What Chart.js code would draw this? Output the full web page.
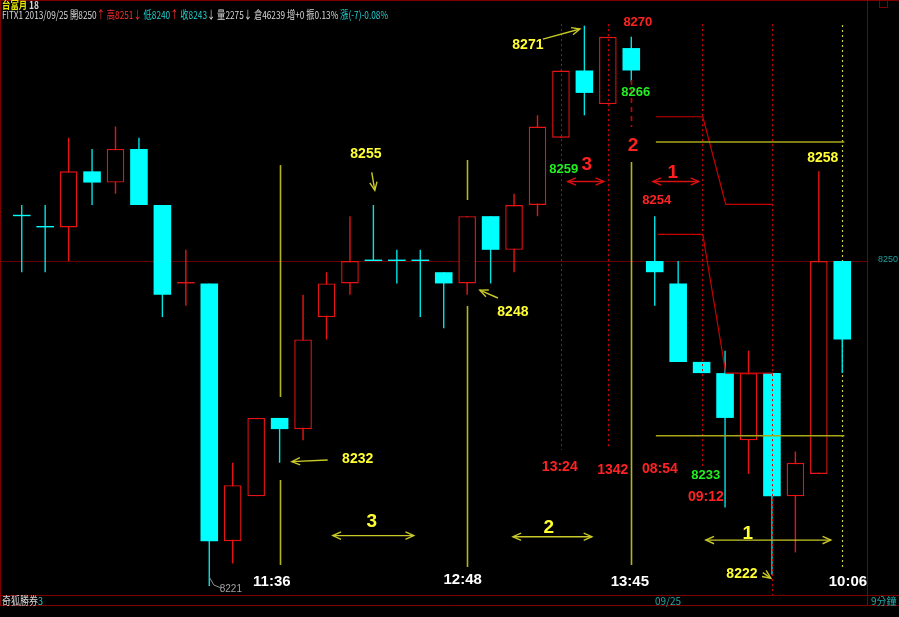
<!DOCTYPE html>
<html><head><meta charset="utf-8">
<script src="https://cdn.jsdelivr.net/npm/chart.js@4.4.0/dist/chart.umd.min.js"></script>
<style>html,body{margin:0;padding:0;background:#000;overflow:hidden}canvas{display:block}</style>
</head><body><canvas id="c" width="899" height="617"></canvas>
<script>
// ---- data ----
const times = ['09:57','10:06','10:15','10:24','10:33','10:42','10:51','11:00','11:09','11:18','11:27','11:36',
  '11:45','11:54','12:03','12:12','12:21','12:30','12:39','12:48','12:57','13:06','13:15','13:24','13:33','13:42',
  '13:45','08:54','09:03','09:12','09:21','09:30','09:39','09:48','09:57','10:06'];
const opens  = [8254,8253,8253,8258,8257,8260,8255,8248,8248,8225,8229,8236,8235,8245,8248,8250,8250,8250,8249,8248,8254,8251,8255,8261,8267,8264,8269,8250,8248,8241,8240,8234,8240,8229,8231,8250];
const highs  = [8255,8255,8261,8260,8262,8261,8255,8251,8248,8232,8236,8236,8247,8249,8254,8255,8251,8251,8249,8254,8254,8256,8263,8267,8271,8270,8270,8254,8250,8241,8242,8242,8240,8233,8258,8250];
const lows   = [8249,8249,8250,8255,8256,8255,8245,8246,8221,8223,8229,8232,8234,8243,8247,8250,8248,8245,8244,8247,8248,8249,8254,8261,8263,8264,8266,8246,8241,8240,8228,8231,8222,8224,8231,8240];
const closes = [8254,8253,8258,8257,8260,8255,8247,8248,8225,8230,8236,8235,8243,8248,8250,8250,8250,8250,8248,8254,8251,8255,8262,8267,8265,8270,8267,8249,8241,8240,8236,8240,8229,8232,8250,8243];
const refPrice = 8250;

// header / footer texts
const headerTitle = [['台富月','title'],[' 18','plain']];
const headerQuote = [['FITX1 2013/09/25 開8250','plain'],['↑','up'],[' 高8251','up'],['↓','up'],[' 低8240','down'],['↑','up'],
  [' 收8243','down'],['↓','plain'],[' 量2275','plain'],['↓','plain'],[' 倉46239 增+0 振0.13% ','plain'],['漲(-7)-0.08%','down']];
const footerLeft = [['奇狐勝券','plain'],['3','down']];
const footerDate = '09/25';
const footerPeriod = '9分鐘';

// annotations in (candle index, price)
const noteTexts = [
  ['8271',21.59,8269.27,'yellowNum'],['8270',26.28,8271.32,'redNum'],['8266',26.19,8265.08,'greenNum'],
  ['8259',23.12,8258.21,'greenNum'],['3',24.10,8258.56,'bigRed'],['2',26.07,8260.29,'bigRed'],
  ['1',27.77,8257.85,'bigRed'],['8254',27.09,8255.44,'redNum'],['8255',14.68,8259.55,'yellowNum'],
  ['8248',20.95,8245.45,'yellowNum'],['8232',14.33,8232.34,'yellowNum'],['3',14.93,8226.74,'bigYellow'],
  ['2',22.48,8226.21,'bigYellow'],['1',30.97,8225.65,'bigYellow'],['8222',30.72,8222.08,'yellowNum'],
  ['13:24',22.95,8231.62,'redTime'],['1342',25.21,8231.36,'redTime'],['08:54',27.22,8231.45,'redTime'],
  ['8233',29.18,8230.91,'greenNum'],['09:12',29.18,8228.97,'redTime'],['8258',34.17,8259.21,'yellowNum'],
  ['11:36',10.67,8221.37,'whiteTime'],['12:48',18.81,8221.54,'whiteTime'],['13:45',25.94,8221.39,'whiteTime'],
  ['10:06',35.24,8221.34,'whiteTime'],['8221',8.92,8220.74,'greyNum']
];
const vSegmentsBack = [
  [11,8258.56,8237.87,'yellowSolid'],[11,8230.46,8222.88,'yellowSolid'],
  [19,8259.01,8255.44,'yellowSolid'],[19,8245.99,8222.70,'yellowSolid'],
  [26,8258.83,8222.88,'yellowSolid'],[35,8271.05,8222.44,'yellowDot']
];
const vSegmentsFront = [
  [23,8271.14,8233.14,'redDot'],[25,8271.14,8233.32,'redDot'],[29,8271.14,8231.62,'redDot'],
  [32,8271.14,8220.2,'redDot'],[26,8266.15,8261.95,'redDash']
];
const polyLines = [
  [[[27.05,8262.87],[29.05,8262.87],[30.03,8255.06],[32.04,8255.06]],'redLine'],
  [[[27.13,8252.38],[29.05,8252.38],[30.03,8240.0],[32.04,8240.0]],'redLine'],
  [[[27.05,8260.61],[35.09,8260.61]],'yellowLine'],
  [[[27.05,8234.42],[35.09,8234.42]],'yellowLine'],
  [[[8,8221.81],[8.19,8221.1],[8.5,8220.83]],'greyLine']
];
const arrows = [
  [22.23,8269.8,23.81,8270.7,'yellowArrow'],[14.93,8257.9,15.06,8256.3,'yellowArrow'],
  [20.31,8246.7,19.54,8247.4,'yellowArrow'],[13.05,8232.25,11.52,8232.1,'yellowArrow'],
  [31.61,8222.2,31.95,8221.7,'yellowArrow']
];
const doubleArrows = [
  [23.29,24.83,8257.1,'redArrow'],[26.92,28.88,8257.1,'redArrow'],
  [13.27,16.72,8225.5,'yellowArrow'],[20.95,24.32,8225.4,'yellowArrow'],[29.18,34.51,8225.1,'yellowArrow']
];

// ---- styles ----
const UP='#e81414', DOWN='#00ffff', DOWNWICK='#00e4e4';
const textStyles = {
  yellowNum:{font:'bold 14px "Liberation Sans"',color:'#ffff33'},
  redNum:{font:'bold 13px "Liberation Sans"',color:'#ff2222'},
  greenNum:{font:'bold 13px "Liberation Sans"',color:'#22ee22'},
  bigRed:{font:'bold 19px "Liberation Sans"',color:'#ff2020'},
  bigYellow:{font:'bold 19px "Liberation Sans"',color:'#ffff33'},
  redTime:{font:'bold 14px "Liberation Sans"',color:'#ff2222'},
  whiteTime:{font:'bold 15px "Liberation Sans"',color:'#ffffff'},
  greyNum:{font:'10px "Liberation Sans"',color:'#a0a0a0'}
};
const lineStyles = {
  yellowSolid:{color:'#b4b420',width:1.6,dash:[]},
  yellowDot:{color:'#d0d040',width:1.2,dash:[2,3]},
  redDot:{color:'#d00000',width:1,dash:[2,3]},
  redDash:{color:'#d00000',width:1.6,dash:[5,4]},
  redLine:{color:'#c80000',width:1.2,dash:[]},
  yellowLine:{color:'#a8a818',width:1.5,dash:[]},
  greyLine:{color:'#909090',width:1,dash:[]},
  yellowArrow:{color:'#c8c828',width:1.4,dash:[]},
  redArrow:{color:'#d81010',width:1.4,dash:[]}
};
const segColors = {title:'#e8e800',plain:'#d8d8d8',up:'#ff3030',down:'#20d0d0'};
const FRAME='#800000';

function dir(i){
  if (closes[i]>opens[i]) return 'up';
  if (closes[i]<opens[i]) return 'down';
  return (i>0 && closes[i]>closes[i-1]) ? 'upDoji' : 'down';
}

const annot = {
  id:'annot',
  beforeDraw(chart){
    const c=chart.ctx; c.save(); c.fillStyle='#000'; c.fillRect(0,0,chart.width,chart.height); c.restore();
  },
  beforeDatasetsDraw(chart){
    const c=chart.ctx, h=helpers(chart);
    c.save();
    c.strokeStyle=FRAME; c.lineWidth=1;
    c.beginPath();
    c.moveTo(0,0.5); c.lineTo(899,0.5);
    c.moveTo(0.5,0); c.lineTo(0.5,606);
    c.moveTo(867.5,0); c.lineTo(867.5,606);
    c.moveTo(0,595.5); c.lineTo(899,595.5);
    c.moveTo(0,605.5); c.lineTo(899,605.5);
    c.stroke();
    c.strokeRect(879.5,0.5,8,7);
    const yr=Math.round(h.y(refPrice))+0.5;
    c.strokeStyle='#6a0000'; c.beginPath(); c.moveTo(1,yr); c.lineTo(867,yr); c.stroke();
    vSegmentsBack.forEach(s=>h.vseg(s));
    c.restore();
  },
  afterDatasetsDraw(chart){
    const c=chart.ctx, h=helpers(chart);
    c.save();
    vSegmentsFront.forEach(s=>h.vseg(s));
    polyLines.forEach(([pts,k])=>{
      h.setLine(k); c.beginPath();
      pts.forEach(([xi,p],j)=>{const X=h.x(xi),Y=h.y(p); j?c.lineTo(X,Y):c.moveTo(X,Y);});
      c.stroke();
    });
    arrows.forEach(([x1,p1,x2,p2,k])=>{
      h.setLine(k); const X1=h.x(x1),Y1=h.y(p1),X2=h.x(x2),Y2=h.y(p2);
      c.beginPath(); c.moveTo(X1,Y1); c.lineTo(X2,Y2); c.stroke(); h.head(X1,Y1,X2,Y2);
    });
    doubleArrows.forEach(([x1,x2,p,k])=>{
      h.setLine(k); const X1=h.x(x1),X2=h.x(x2),Y=h.y(p);
      c.beginPath(); c.moveTo(X1,Y); c.lineTo(X2,Y); c.stroke(); h.head(X1,Y,X2,Y); h.head(X2,Y,X1,Y);
    });
    c.setLineDash([]);
    c.textAlign='center'; c.textBaseline='middle';
    noteTexts.forEach(([t,xi,p,k])=>{
      const s=textStyles[k]; c.font=s.font; c.fillStyle=s.color; c.fillText(t,h.x(xi),h.y(p));
    });
    c.font='9px "Liberation Sans"'; c.fillStyle='#20a0a0'; c.textAlign='left';
    c.fillText(String(refPrice),878,h.y(refPrice)-1);
    c.textBaseline='middle';
    segs(c,headerTitle,2,5,37,'bold 10px "Noto Sans CJK TC"');
    segs(c,headerQuote,2,15,386,'11px "Noto Sans CJK TC"');
    segs(c,footerLeft,2,601,41,'11px "Noto Sans CJK TC"');
    c.font='10px "Noto Sans CJK TC"'; c.fillStyle='#20a8a8'; c.textAlign='center';
    c.fillText(footerDate,668,601);
    c.textAlign='left'; c.fillText(footerPeriod,871,601);
    c.restore();
  }
};
function segs(c,list,x,y,target,font){
  c.font=font; c.textAlign='left';
  const total=list.reduce((s,[t])=>s+c.measureText(t).width,0);
  const k=target/total;
  c.save(); c.translate(x,y); c.scale(k,1);
  let cx=0;
  list.forEach(([t,col])=>{c.fillStyle=segColors[col]; c.fillText(t,cx,0); cx+=c.measureText(t).width;});
  c.restore();
}
function helpers(chart){
  const xs=chart.scales.x, ys=chart.scales.y, c=chart.ctx;
  const x0=xs.getPixelForValue(0), step=xs.getPixelForValue(1)-x0;
  const o={
    x:v=>x0+v*step,
    y:p=>ys.getPixelForValue(p),
    setLine(k){const s=lineStyles[k]; c.strokeStyle=s.color; c.lineWidth=s.width; c.setLineDash(s.dash);},
    vseg([xi,p1,p2,k]){o.setLine(k); const X=Math.round(o.x(xi))+0.5; c.beginPath(); c.moveTo(X,o.y(p1)); c.lineTo(X,o.y(p2)); c.stroke();},
    head(x1,y1,x2,y2){
      const a=Math.atan2(y2-y1,x2-x1), L=9, sp=0.42;
      c.setLineDash([]); c.beginPath();
      c.moveTo(x2-L*Math.cos(a-sp),y2-L*Math.sin(a-sp)); c.lineTo(x2,y2);
      c.lineTo(x2-L*Math.cos(a+sp),y2-L*Math.sin(a+sp)); c.stroke();
    }
  };
  return o;
}

new Chart(document.getElementById('c'),{
  type:'bar',
  data:{labels:times,datasets:[
    {label:'wick',data:lows.map((l,i)=>[l,highs[i]]),barThickness:1.4,grouped:false,order:2,inflateAmount:0,
     backgroundColor:cx=>dir(cx.dataIndex).startsWith('up')?UP:DOWNWICK,borderWidth:0},
    {label:'body',data:opens.map((o,i)=>[o,closes[i]]),barPercentage:0.75,categoryPercentage:1,grouped:false,order:1,
     minBarLength:1.4,borderSkipped:false,inflateAmount:0,
     backgroundColor:cx=>{const d=dir(cx.dataIndex);return d==='up'?'#000':d==='upDoji'?UP:DOWN;},
     borderColor:UP,
     borderWidth:cx=>dir(cx.dataIndex)==='up'?1.4:0}
  ]},
  options:{responsive:false,animation:false,events:[],
    layout:{padding:{left:10,right:45,top:1,bottom:22}},
    scales:{x:{display:false},y:{display:false,min:8220.2,max:8273.2}},
    plugins:{legend:{display:false},tooltip:{enabled:false}}},
  plugins:[annot]
});
</script></body></html>
